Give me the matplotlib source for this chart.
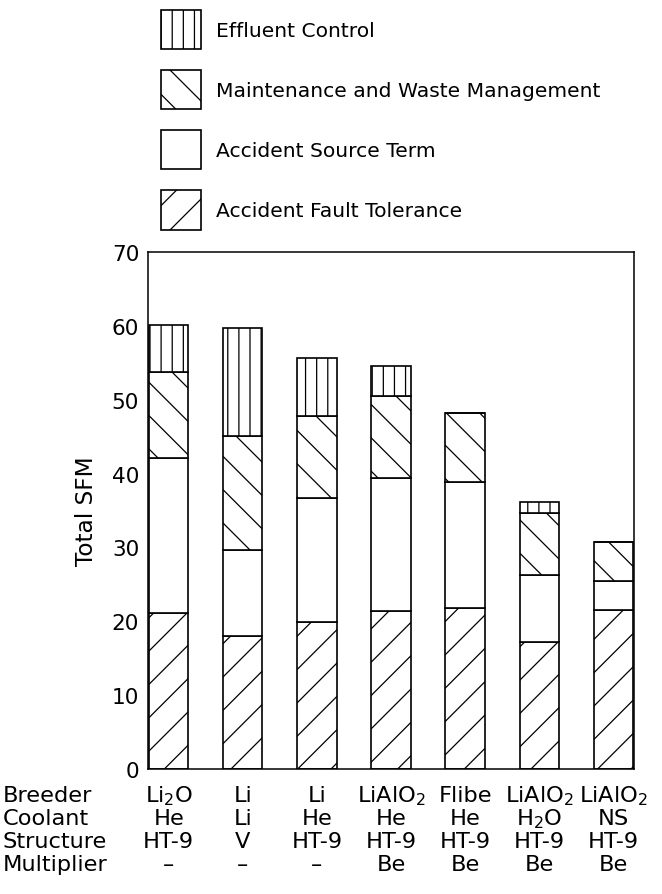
"""Stacked SFM bars for the blanket design options."""

import matplotlib.pyplot as plt
from matplotlib.patches import Patch
from matplotlib.transforms import blended_transform_factory

breeder = ['Li$_2$O', 'Li', 'Li', 'LiAlO$_2$', 'Flibe', 'LiAlO$_2$', 'LiAlO$_2$']
coolant = ['He', 'Li', 'He', 'He', 'He', 'H$_2$O', 'NS']
structure = ['HT-9', 'V', 'HT-9', 'HT-9', 'HT-9', 'HT-9', 'HT-9']
multiplier = ['–', '–', '–', 'Be', 'Be', 'Be', 'Be']
row_names = ['Breeder', 'Coolant', 'Structure', 'Multiplier']

fault_tolerance = [21.1, 18.0, 19.9, 21.4, 21.8, 17.2, 21.5]
source_term = [21.0, 11.6, 16.8, 18.0, 17.1, 9.0, 4.0]
maintenance = [11.7, 15.5, 11.1, 11.1, 9.3, 8.5, 5.3]
effluent = [6.3, 14.6, 7.8, 4.0, 0.0, 1.5, 0.0]

DPI = 200
FS = 7.3
TABLE_FS = 8.1
plt.rcParams['font.family'] = ['DejaVu Sans']
plt.rcParams['hatch.linewidth'] = 0.45

fig = plt.figure(figsize=(662 / DPI, 895 / DPI), dpi=DPI)
ax = fig.add_axes([0.2236, 0.1397, 0.7341, 0.5776])

x = list(range(len(breeder)))
width = 0.53
style = dict(width=width, color='white', edgecolor='black', linewidth=0.6)

bottom = [0.0] * len(x)
layers = [
    (fault_tolerance, '//', 'Accident Fault Tolerance'),
    (source_term, '', 'Accident Source Term'),
    (maintenance, '\\\\', 'Maintenance and Waste Management'),
    (effluent, '|||', 'Effluent Control'),
]
handles = []
for vals, hatch, label in layers:
    ax.bar(x, vals, bottom=bottom, hatch=hatch, **style)
    bottom = [b + v for b, v in zip(bottom, vals)]
    handles.append(Patch(facecolor='white', edgecolor='black', linewidth=0.6,
                         hatch=hatch, label=label))

ax.set_xlim(-0.28, 6.28)
ax.set_ylim(0, 70)
ax.set_yticks(range(0, 71, 10))
ax.set_xticks([])
ax.tick_params(axis='y', length=0, pad=3.2, labelsize=FS + 0.5)
for s in ax.spines.values():
    s.set_linewidth(0.55)

ax.set_ylabel('Total SFM', fontsize=8.4)
ax.yaxis.set_label_coords(-0.103, 0.5)

# descriptor table under the bars
rows = [breeder, coolant, structure, multiplier]
row_y = [-0.0619, -0.1064, -0.1509, -0.1954]
name_tr = blended_transform_factory(fig.transFigure, ax.transAxes)
col_tr = blended_transform_factory(ax.transData, ax.transAxes)
for name, vals, y in zip(row_names, rows, row_y):
    ax.text(0.004, y, name, transform=name_tr, ha='left', va='baseline',
            fontsize=TABLE_FS, clip_on=False)
    for xi, v in zip(x, vals):
        ax.text(xi, y, v, transform=col_tr, ha='center', va='baseline',
                fontsize=TABLE_FS, clip_on=False)

fig.legend(handles=handles[::-1], loc='upper left',
           bbox_to_anchor=(161 / 662, 1 - 11 / 895), frameon=False,
           fontsize=FS, handlelength=1.95, handleheight=2.6,
           handletextpad=0.75, labelspacing=1.03, borderpad=0,
           borderaxespad=0)

fig.savefig('out.png', dpi=DPI, facecolor='white')
